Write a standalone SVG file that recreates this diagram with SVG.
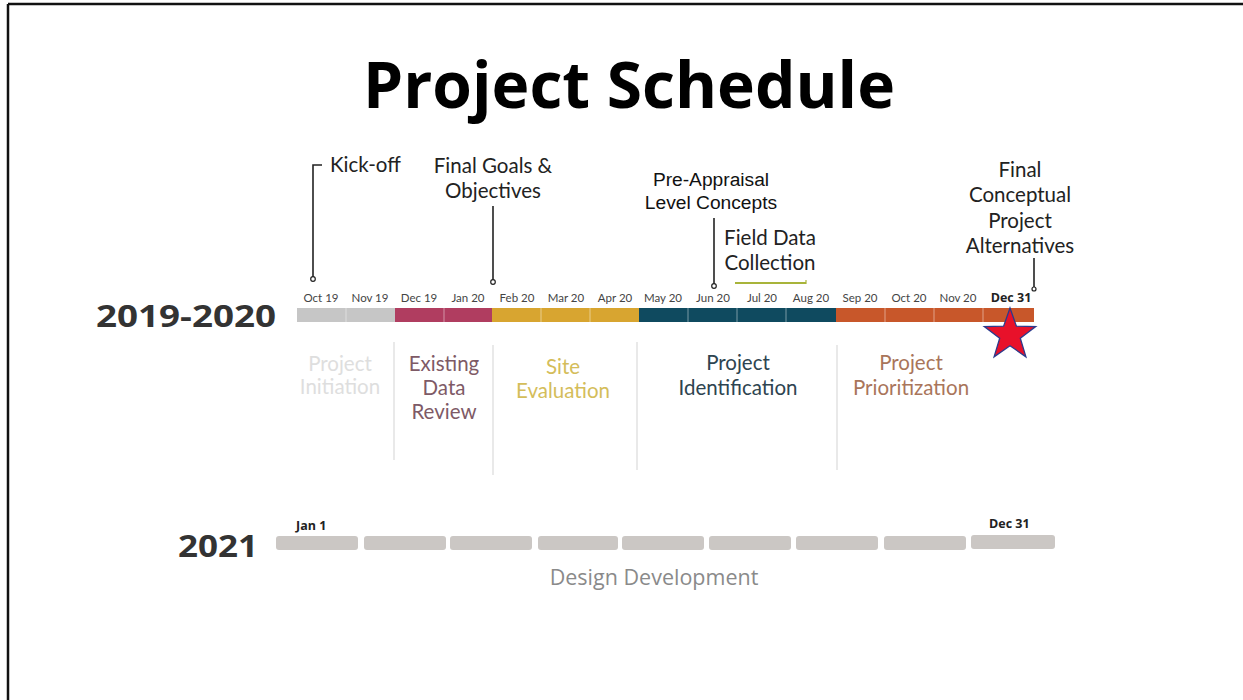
<svg xmlns="http://www.w3.org/2000/svg" width="1243" height="700" viewBox="0 0 1243 700">
<style>
.ms{font-family:Lato,"Liberation Sans",sans-serif;font-size:11.5px;fill:#444;text-anchor:middle}
.ann{font-family:Lato,"Liberation Sans",sans-serif;font-size:20.5px;fill:#222;text-anchor:middle}
.arial{font-family:"Liberation Sans",Arial,sans-serif;font-size:19.2px;fill:#111;text-anchor:middle}
.phase{font-family:Lato,"Liberation Sans",sans-serif;font-size:20.5px;text-anchor:middle}
.lead{stroke:#222;stroke-width:1.6;fill:none}
.dot{fill:#fff;stroke:#222;stroke-width:1.2}
.sep{stroke:#e2e2e2;stroke-width:1.5}
.yr{font-family:"Open Sans","Liberation Sans",sans-serif;font-weight:700;font-size:30px;fill:#333}
.seg21{fill:#cbc7c4}
.bold{font-family:"Open Sans","Liberation Sans",sans-serif;font-weight:700;font-size:12.5px;fill:#222}
</style>
<rect width="1243" height="700" fill="#fff"/>
<line x1="8" y1="4" x2="1243" y2="4" stroke="#111" stroke-width="2.5"/>
<line x1="8" y1="4" x2="8" y2="700" stroke="#111" stroke-width="2.5"/>

<g id="title"><text x="629" y="108" text-anchor="middle" textLength="532" lengthAdjust="spacingAndGlyphs" font-family="'Open Sans','Liberation Sans',sans-serif" font-weight="700" font-size="64" fill="#000">Project Schedule</text></g>

<g id="year-2019-2020"><text class="yr" x="96" y="327" textLength="180" lengthAdjust="spacingAndGlyphs">2019-2020</text></g>

<g id="timeline-2020">
<rect x="297" y="308" width="98" height="14" fill="#c6c6c6"/>
<rect x="395" y="308" width="97" height="14" fill="#b03d60"/>
<rect x="492" y="308" width="147" height="14" fill="#d8a530"/>
<rect x="639" y="308" width="197" height="14" fill="#0f4a5f"/>
<rect x="836" y="308" width="198" height="14" fill="#c8572a"/>
<g stroke="#fff" stroke-opacity="0.45" stroke-width="1">
<line x1="346" y1="308" x2="346" y2="322"/><line x1="444" y1="308" x2="444" y2="322"/>
<line x1="541" y1="308" x2="541" y2="322"/><line x1="590" y1="308" x2="590" y2="322"/>
<line x1="688" y1="308" x2="688" y2="322"/><line x1="737" y1="308" x2="737" y2="322"/><line x1="786" y1="308" x2="786" y2="322"/>
<line x1="885" y1="308" x2="885" y2="322"/><line x1="934" y1="308" x2="934" y2="322"/><line x1="983" y1="308" x2="983" y2="322"/>
</g>
<text class="ms" x="321" y="302">Oct 19</text>
<text class="ms" x="370" y="302">Nov 19</text>
<text class="ms" x="419" y="302">Dec 19</text>
<text class="ms" x="468" y="302">Jan 20</text>
<text class="ms" x="517" y="302">Feb 20</text>
<text class="ms" x="566" y="302">Mar 20</text>
<text class="ms" x="615" y="302">Apr 20</text>
<text class="ms" x="663" y="302">May 20</text>
<text class="ms" x="713" y="302">Jun 20</text>
<text class="ms" x="762" y="302">Jul 20</text>
<text class="ms" x="811" y="302">Aug 20</text>
<text class="ms" x="860" y="302">Sep 20</text>
<text class="ms" x="909" y="302">Oct 20</text>
<text class="ms" x="958" y="302">Nov 20</text>
<text x="1011" y="302" style="font-family:'Open Sans','Liberation Sans',sans-serif;font-weight:700;font-size:12.5px;fill:#222;text-anchor:middle">Dec 31</text>
</g>

<g id="connectors">
<polyline class="lead" points="313,277 313,165 322,165"/>
<circle class="dot" cx="313" cy="279" r="2.3"/>
<line class="lead" x1="493" y1="206" x2="493" y2="280"/>
<circle class="dot" cx="493" cy="282" r="2.3"/>
<line class="lead" x1="714" y1="218" x2="714" y2="284"/>
<circle class="dot" cx="714" cy="286" r="2.3"/>
<line x1="735" y1="283" x2="806" y2="283" stroke="#a8b43a" stroke-width="1.8"/>
<line x1="806" y1="280" x2="806" y2="284" stroke="#a8b43a" stroke-width="1.2"/>
<line class="lead" x1="1034" y1="258" x2="1034" y2="287"/>
<circle class="dot" cx="1034" cy="289" r="2"/>
</g>

<g id="kickoff"><text x="330" y="172" style="font-family:Lato,'Liberation Sans',sans-serif;font-size:20.5px;fill:#222;text-anchor:start">Kick-off</text></g>
<g id="final-goals"><text class="ann" x="493" y="173">Final Goals &amp;</text><text class="ann" x="493" y="198">Objectives</text></g>
<g id="pre-appraisal"><text class="arial" x="711" y="186">Pre-Appraisal</text><text class="arial" x="711" y="209">Level Concepts</text></g>
<g id="field-data"><text class="ann" x="770" y="245">Field Data</text><text class="ann" x="770" y="270">Collection</text></g>
<g id="final-conceptual"><text class="ann" x="1020" y="177">Final</text><text class="ann" x="1020" y="202">Conceptual</text><text class="ann" x="1020" y="228">Project</text><text class="ann" x="1020" y="253">Alternatives</text></g>

<g id="separators">
<line class="sep" x1="394" y1="342" x2="394" y2="460"/>
<line class="sep" x1="493" y1="345" x2="493" y2="475"/>
<line class="sep" x1="637" y1="342" x2="637" y2="470"/>
<line class="sep" x1="837" y1="345" x2="837" y2="470"/>
</g>

<g id="phase-initiation"><text class="phase" x="340" y="371" fill="#dedede">Project</text><text class="phase" x="340" y="394" fill="#dedede">Initiation</text></g>
<g id="phase-existing"><text class="phase" x="444" y="371" fill="#7e5a66">Existing</text><text class="phase" x="444" y="395" fill="#7e5a66">Data</text><text class="phase" x="444" y="419" fill="#7e5a66">Review</text></g>
<g id="phase-site"><text class="phase" x="563" y="374" fill="#d4bd5a">Site</text><text class="phase" x="563" y="398" fill="#d4bd5a">Evaluation</text></g>
<g id="phase-identification"><text class="phase" x="738" y="370" fill="#2e4450">Project</text><text class="phase" x="738" y="395" fill="#2e4450">Identification</text></g>
<g id="phase-prioritization"><text class="phase" x="911" y="370" fill="#a9755a">Project</text><text class="phase" x="911" y="395" fill="#a9755a">Prioritization</text></g>

<g id="star"><polygon points="1010,308 1016.4,326.2 1035.7,326.6 1020.3,338.3 1025.9,356.8 1010,345.8 994.1,356.8 999.7,338.3 984.3,326.6 1003.6,326.2" fill="#e8112a" stroke="#2c3a8c" stroke-width="1.3"/></g>

<g id="year-2021"><text class="yr" x="178" y="557" textLength="80" lengthAdjust="spacingAndGlyphs">2021</text></g>
<g id="timeline-2021">
<rect class="seg21" x="276" y="536" width="82" height="14" rx="3"/>
<rect class="seg21" x="364" y="536" width="82" height="14" rx="3"/>
<rect class="seg21" x="450" y="536" width="82" height="14" rx="3"/>
<rect class="seg21" x="538" y="536" width="80" height="14" rx="3"/>
<rect class="seg21" x="622" y="536" width="82" height="14" rx="3"/>
<rect class="seg21" x="709" y="536" width="82" height="14" rx="3"/>
<rect class="seg21" x="796" y="536" width="82" height="14" rx="3"/>
<rect class="seg21" x="884" y="536" width="82" height="14" rx="3"/>
<rect class="seg21" x="971" y="535" width="84" height="14" rx="3"/>
<text class="bold" x="296" y="530">Jan 1</text>
<text class="bold" x="989" y="528">Dec 31</text>
</g>
<g id="design-dev"><text x="654" y="585" text-anchor="middle" font-family="'Open Sans','Liberation Sans',sans-serif" font-size="21.5" fill="#8a8a8a">Design Development</text></g>
</svg>
